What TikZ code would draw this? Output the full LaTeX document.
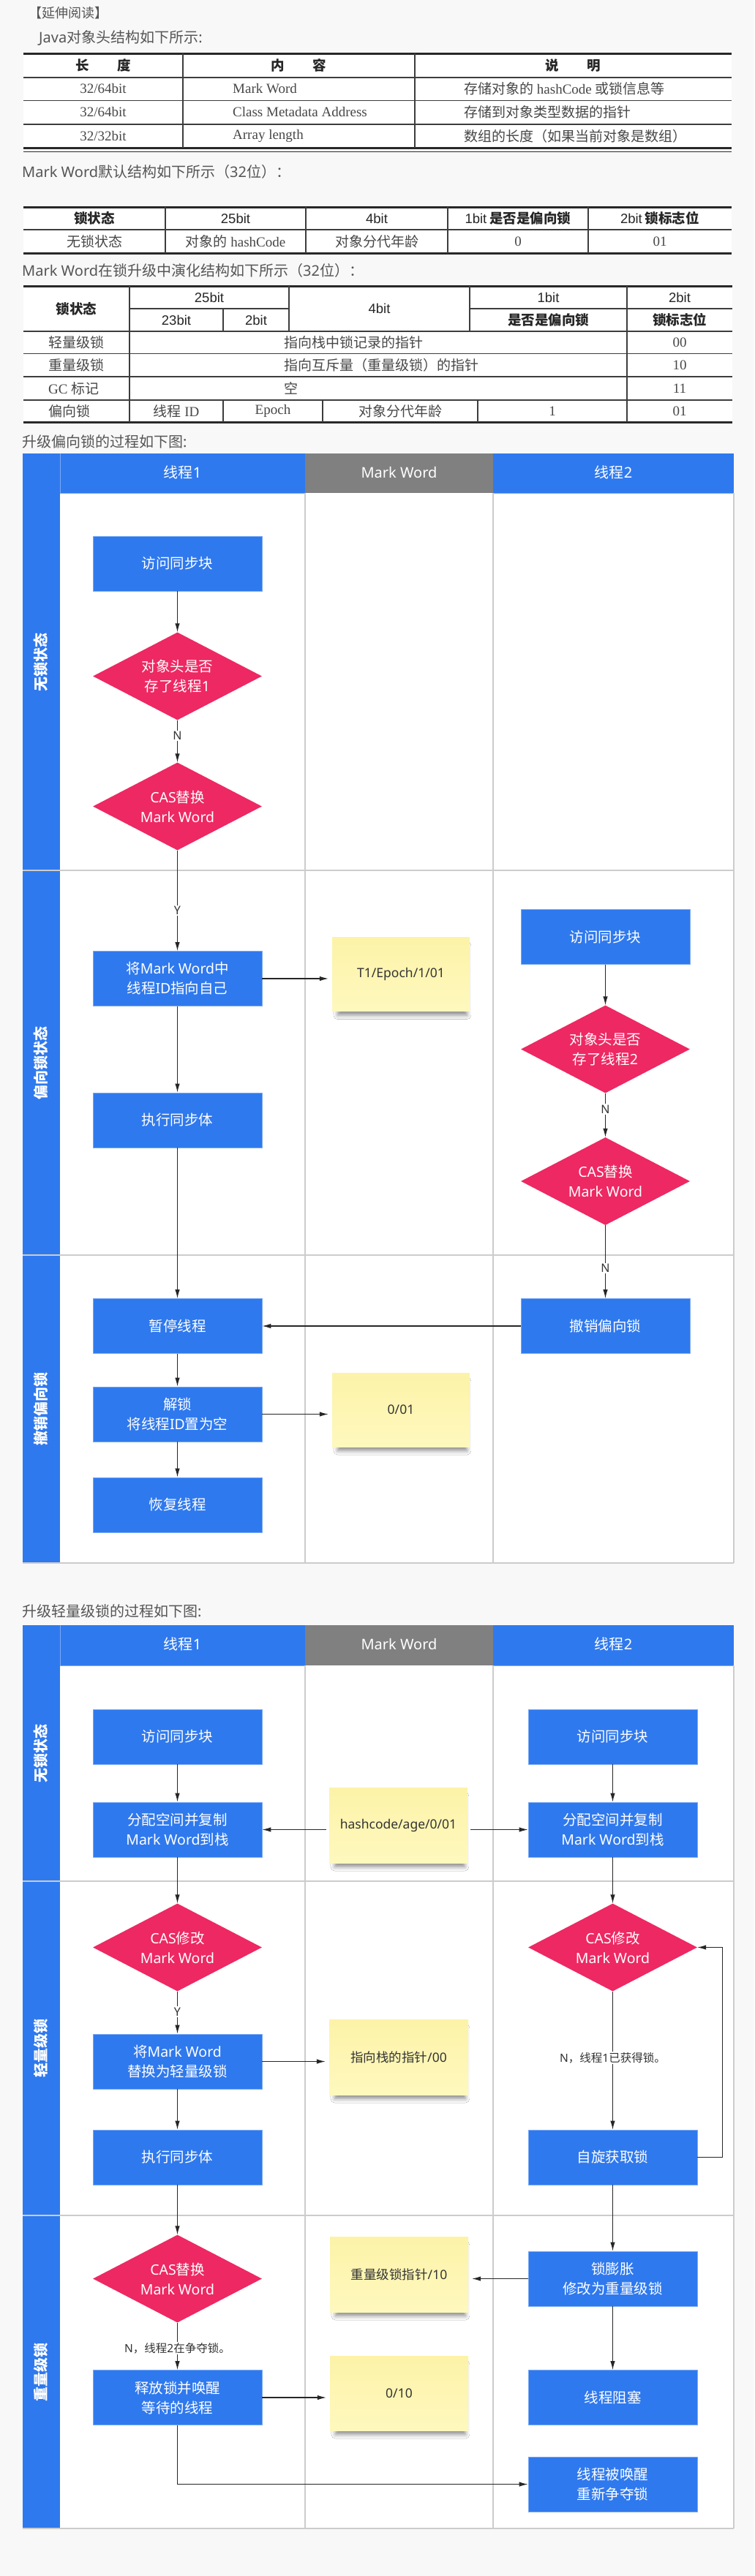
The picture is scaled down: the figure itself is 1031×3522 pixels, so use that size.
\documentclass[tikz,border=0pt]{standalone}
\usepackage{fontspec}
\setmainfont{Liberation Serif}
\newfontfamily\cjk{Noto Sans CJK SC}
\newfontfamily\lat{Noto Sans}
\newfontfamily\ari{Liberation Sans}
\usetikzlibrary{shapes.geometric,arrows.meta,shadows.blur}
\newcommand\lt[1]{{\lat #1}}
\newcommand\ar[1]{{\ari #1}}
\definecolor{bg}{RGB}{248,248,248}
\definecolor{blueC}{RGB}{47,121,238}
\definecolor{blueL}{RGB}{120,168,246}
\definecolor{pinkC}{RGB}{238,40,98}
\definecolor{grayH}{RGB}{128,128,128}
\definecolor{laneL}{RGB}{204,204,204}
\definecolor{stA}{RGB}{252,243,168}
\definecolor{stB}{RGB}{254,248,190}
\definecolor{txt}{RGB}{85,85,85}
\definecolor{tline}{RGB}{40,40,40}
\tikzset{
 box/.style={rectangle, fill=blueC, draw=blueL, line width=0.8pt, minimum width=231pt, minimum height=75pt, inner sep=0pt, text=white, align=center, font=\cjk\fontsize{19.5}{27}\selectfont},
 dia/.style={diamond, aspect=1.925, fill=pinkC, minimum width=231pt, minimum height=120pt, inner sep=0pt, text=white, align=center, font=\cjk\fontsize{19.5}{27}\selectfont},
 sticky/.style={rectangle, top color=stA, bottom color=stB, minimum width=188pt, minimum height=101pt, inner sep=0pt, text=black!80, font=\cjk\fontsize{17.5}{22}\selectfont, blur shadow={shadow xshift=2pt, shadow yshift=-9pt, shadow scale=0.94, shadow blur radius=6pt, shadow opacity=45}},
 arr/.style={draw=black!85, line width=1.1pt, -{Latex[length=12pt,width=6.5pt]}},
 elab/.style={fill=white, inner sep=1.5pt, text=black!80, font=\cjk\fontsize{16}{19}\selectfont},
 hd/.style={text=white, font=\cjk\fontsize{20}{24}\selectfont},
 lanelab/.style={rotate=90, text=white, font=\cjk\bfseries\fontsize{20}{24}\selectfont},
 para/.style={anchor=west, text=txt, font=\cjk\fontsize{20}{24}\selectfont, inner sep=0pt},
 th/.style={text=black!85, font=\cjk\fontsize{18.5}{22}\selectfont, inner sep=0pt},
 td/.style={text=black!72, font=\fontsize{19}{22}\selectfont, inner sep=0pt},
 tk/.style={line width=3pt, draw=tline},
 tm/.style={line width=1.6pt, draw=tline!90},
 tv/.style={line width=1.2pt, draw=tline!90},
 lanesep/.style={draw=laneL, line width=2.5pt},
 colsep/.style={draw=laneL, line width=1.3pt},
}
\begin{document}
\begin{tikzpicture}[x=1pt,y=-1pt]
\useasboundingbox (0,0) rectangle (1031,3522);
\fill[bg] (0,0) rectangle (1031,3522);

% ---------- headings ----------
\node[para, font=\cjk\fontsize{18}{22}\selectfont] (p0) at (39,18) {【延伸阅读】};
\node[para] (p1) at (53,52) {\lt{Java}对象头结构如下所示\lt{:}};
\node[para] (p2) at (30,235) {\lt{Mark Word}默认结构如下所示（\lt{32}位）：};
\node[para] (p3) at (30,370) {\lt{Mark Word}在锁升级中演化结构如下所示（\lt{32}位）：};
\node[para] (p4) at (30,604) {升级偏向锁的过程如下图\lt{:}};
\node[para] (p5) at (30,2203) {升级轻量级锁的过程如下图\lt{:}};

% ---------- table 1 ----------
\fill[white] (32,73) rectangle (1000,208);
\draw[tk] (32,73.5) -- (1000,73.5);
\draw[tm] (32,106) -- (1000,106);
\draw[tm] (32,137.5) -- (1000,137.5);
\draw[tm] (32,170) -- (1000,170);
\draw[tk] (32,202) -- (1000,202);
\draw[line width=1.2pt, draw=tline] (32,207.5) -- (1000,207.5);
\draw[tv] (250,73) -- (250,202);
\draw[tv] (567,73) -- (567,202);
\node[th, font=\cjk\bfseries\fontsize{18.5}{22}\selectfont] (t1h1) at (141,89.5) {长\hspace{38pt}度};
\node[th, font=\cjk\bfseries\fontsize{18.5}{22}\selectfont] (t1h2) at (408,89.5) {内\hspace{38pt}容};
\node[th, font=\cjk\bfseries\fontsize{18.5}{22}\selectfont] (t1h3) at (783,89.5) {说\hspace{38pt}明};
\node[td] (t1a1) at (141,121.5) {32/64bit};
\node[td, anchor=west] (t1b1) at (318,121.5) {Mark Word};
\node[td, anchor=west] (t1c1) at (634,121.5) {{\cjk 存储对象的} hashCode {\cjk 或锁信息等}};
\node[td] (t1a2) at (141,153.5) {32/64bit};
\node[td, anchor=west] (t1b2) at (318,153.5) {Class Metadata Address};
\node[td, anchor=west] (t1c2) at (634,153.5) {{\cjk 存储到对象类型数据的指针}};
\node[td] (t1a3) at (141,186) {32/32bit};
\node[td, anchor=west] (t1b3) at (318,186) {Array length};
\node[td, anchor=west] (t1c3) at (634,186) {{\cjk 数组的长度（如果当前对象是数组）}};

% ---------- table 2 ----------
\fill[white] (32,283) rectangle (1000,348);
\draw[tk] (32,283.5) -- (1000,283.5);
\draw[tm] (32,314) -- (1000,314);
\draw[tk] (32,346.5) -- (1000,346.5);
\foreach \xx in {226,418,612,804} \draw[tv] (\xx,283) -- (\xx,346);
\node[th] (t2h1) at (129,298.5) {\textbf{锁状态}};
\node[th] (t2h2) at (322,298.5) {\ar{25bit}};
\node[th] (t2h3) at (515,298.5) {\ar{4bit}};
\node[th] (t2h4) at (708,298.5) {\ar{1bit} \textbf{是否是偏向锁}};
\node[th] (t2h5) at (902,298.5) {\ar{2bit} \textbf{锁标志位}};
\node[td] (t2r1) at (129,330.5) {{\cjk 无锁状态}};
\node[td] (t2r2) at (322,330.5) {{\cjk 对象的} hashCode};
\node[td] (t2r3) at (515,330.5) {{\cjk 对象分代年龄}};
\node[td] (t2r4) at (708,330.5) {0};
\node[td] (t2r5) at (902,330.5) {01};

% ---------- table 3 ----------
\fill[white] (32,391) rectangle (1001,578);
\draw[tk] (32,391.5) -- (1001,391.5);
\draw[tm] (177,422) -- (395,422);
\draw[tm] (642,422) -- (1001,422);
\foreach \yy in {453,483.5,515,547} \draw[tm] (32,\yy) -- (1001,\yy);
\draw[tk] (32,577) -- (1001,577);
\draw[tv] (177,391) -- (177,577);
\draw[tv] (857,391) -- (857,577);
\draw[tv] (305,422) -- (305,453);
\draw[tv] (305,547) -- (305,577);
\draw[tv] (395,391) -- (395,453);
\draw[tv] (642,391) -- (642,453);
\draw[tv] (441,547) -- (441,577);
\draw[tv] (653,547) -- (653,577);
\node[th] (t3h1) at (104.5,422) {\textbf{锁状态}};
\node[th] (t3h2) at (286,406.5) {\ar{25bit}};
\node[th] (t3h3) at (241,437.5) {\ar{23bit}};
\node[th] (t3h4) at (350,437.5) {\ar{2bit}};
\node[th] (t3h5) at (518.5,422) {\ar{4bit}};
\node[th] (t3h6) at (749.5,406.5) {\ar{1bit}};
\node[th] (t3h7) at (749.5,437.5) {\textbf{是否是偏向锁}};
\node[th] (t3h8) at (929,406.5) {\ar{2bit}};
\node[th] (t3h9) at (929,437.5) {\textbf{锁标志位}};
\node[td, anchor=west] (t3a1) at (66,468) {{\cjk 轻量级锁}};
\node[td, anchor=west] (t3b1) at (388,468) {{\cjk 指向栈中锁记录的指针}};
\node[td] (t3c1) at (929,468) {00};
\node[td, anchor=west] (t3a2) at (66,499) {{\cjk 重量级锁}};
\node[td, anchor=west] (t3b2) at (388,499) {{\cjk 指向互斥量（重量级锁）的指针}};
\node[td] (t3c2) at (929,499) {10};
\node[td, anchor=west] (t3a3) at (66,531) {GC {\cjk 标记}};
\node[td, anchor=west] (t3b3) at (388,531) {{\cjk 空}};
\node[td] (t3c3) at (929,531) {11};
\node[td, anchor=west] (t3a4) at (66,562) {{\cjk 偏向锁}};
\node[td] (t3b4) at (241,562) {{\cjk 线程} ID};
\node[td] (t3c4) at (373,562) {Epoch};
\node[td] (t3d4) at (547,562) {{\cjk 对象分代年龄}};
\node[td] (t3e4) at (755,562) {1};
\node[td] (t3f4) at (929,562) {01};

% ---------- diagram 1 : bias lock ----------
\fill[white] (82,674) rectangle (1003,2137);
\fill[blueC] (31,619.5) rectangle (81.5,2137);
\fill[blueC] (82,619.5) rectangle (417,674);
\fill[grayH] (417,619.5) rectangle (674,674);
\fill[blueC] (674,619.5) rectangle (1003,674);
\draw[blueL, line width=1pt] (82,619.5) -- (82,674) -- (417,674);
\draw[blueL, line width=1pt] (674,674) -- (1003,674);
\draw[colsep] (417,674) -- (417,2137);
\draw[colsep] (674,674) -- (674,2137);
\draw[colsep] (1003,674) -- (1003,2137);
\draw[lanesep] (31,1190) -- (1003,1190);
\draw[lanesep] (31,1716) -- (1003,1716);
\draw[lanesep] (31,2137) -- (1003,2137);
\node[hd] (h11) at (249.5,646) {线程\lt{1}};
\node[hd] (h12) at (545.5,646) {\lt{Mark Word}};
\node[hd] (h13) at (838.5,646) {线程\lt{2}};
\node[lanelab] (l11) at (56,905) {无锁状态};
\node[lanelab] (l12) at (56,1453) {偏向锁状态};
\node[lanelab] (l13) at (56,1926.5) {撤销偏向锁};

\node[box] (a1) at (242.5,770.5) {访问同步块};
\node[dia] (a2) at (242.5,924.5) {对象头是否\\存了线程\lt{1}};
\node[dia] (a3) at (242.5,1102.5) {\lt{CAS}替换\\\lt{Mark Word}};
\node[box] (a4) at (242.5,1338) {将\lt{Mark Word}中\\线程\lt{ID}指向自己};
\node[sticky] (s1) at (548,1332) {\lt{T1/Epoch/1/01}};
\node[box] (a5) at (242.5,1531.5) {执行同步体};
\node[box] (a6) at (242.5,1813) {暂停线程};
\node[box] (a7) at (242.5,1933.5) {解锁\\将线程\lt{ID}置为空};
\node[sticky] (s2) at (548,1927.5) {\lt{0/01}};
\node[box] (a8) at (242.5,2057.5) {恢复线程};
\node[box] (b1) at (827.5,1281) {访问同步块};
\node[dia] (b2) at (827.5,1434.5) {对象头是否\\存了线程\lt{2}};
\node[dia] (b3) at (827.5,1615) {\lt{CAS}替换\\\lt{Mark Word}};
\node[box] (b4) at (827.5,1813) {撤销偏向锁};

\draw[arr] (a1) -- (a2);
\draw[arr] (a2) -- node[elab,pos=0.37]{\lt{N}} (a3);
\draw[arr] (a3) -- node[elab,pos=0.6]{\lt{Y}} (a4);
\draw[arr,shorten >=5pt] (a4.east) -- (a4.east -| s1.west);
\draw[arr] (a4) -- (a5);
\draw[arr] (a5) -- (a6);
\draw[arr] (b4) -- (a6);
\draw[arr] (a6) -- (a7);
\draw[arr,shorten >=5pt] (a7.east) -- (a7.east -| s2.west);
\draw[arr] (a7) -- (a8);
\draw[arr] (b1) -- (b2);
\draw[arr] (b2) -- node[elab,pos=0.36]{\lt{N}} (b3);
\draw[arr] (b3) -- node[elab,pos=0.59]{\lt{N}} (b4);

% ---------- diagram 2 : lightweight lock ----------
\fill[white] (82,2277) rectangle (1003,3457);
\fill[blueC] (31,2222) rectangle (81.5,3457);
\fill[blueC] (82,2222) rectangle (417,2277);
\fill[grayH] (417,2222) rectangle (674,2277);
\fill[blueC] (674,2222) rectangle (1003,2277);
\draw[blueL, line width=1pt] (82,2222) -- (82,2277) -- (417,2277);
\draw[blueL, line width=1pt] (674,2277) -- (1003,2277);
\draw[colsep] (417,2277) -- (417,3457);
\draw[colsep] (674,2277) -- (674,3457);
\draw[colsep] (1003,2277) -- (1003,3457);
\draw[lanesep] (31,2572) -- (1003,2572);
\draw[lanesep] (31,3029) -- (1003,3029);
\draw[lanesep] (31,3457) -- (1003,3457);
\node[hd] (h21) at (249.5,2248) {线程\lt{1}};
\node[hd] (h22) at (545.5,2248) {\lt{Mark Word}};
\node[hd] (h23) at (838.5,2248) {线程\lt{2}};
\node[lanelab] (l21) at (56,2397) {无锁状态};
\node[lanelab] (l22) at (56,2800.5) {轻量级锁};
\node[lanelab] (l23) at (56,3243) {重量级锁};

\node[box] (c1) at (242.5,2374.5) {访问同步块};
\node[box] (c2) at (242.5,2501.5) {分配空间并复制\\\lt{Mark Word}到栈};
\node[sticky, minimum width=189pt, minimum height=103pt] (s3) at (544.5,2495.5) {\lt{hashcode/age/0/01}};
\node[box] (d1) at (837.5,2374.5) {访问同步块};
\node[box] (d2) at (837.5,2501.5) {分配空间并复制\\\lt{Mark Word}到栈};
\node[dia] (c3) at (242.5,2662.5) {\lt{CAS}修改\\\lt{Mark Word}};
\node[dia] (d3) at (837.5,2662.5) {\lt{CAS}修改\\\lt{Mark Word}};
\node[box] (c4) at (242.5,2818.5) {将\lt{Mark Word}\\替换为轻量级锁};
\node[sticky, minimum width=190pt, minimum height=103pt] (s4) at (545,2812.5) {指向栈的指针\lt{/00}};
\node[box] (c5) at (242.5,2949.5) {执行同步体};
\node[box] (d4) at (837.5,2949.5) {自旋获取锁};
\node[dia] (c6) at (242.5,3115.5) {\lt{CAS}替换\\\lt{Mark Word}};
\node[sticky, minimum width=189pt, minimum height=103pt] (s5) at (545.5,3109.5) {重量级锁指针\lt{/10}};
\node[box] (d5) at (837.5,3115.5) {锁膨胀\\修改为重量级锁};
\node[box] (c7) at (242.5,3278) {释放锁并唤醒\\等待的线程};
\node[sticky, minimum width=189pt, minimum height=102pt] (s6) at (545.5,3272) {\lt{0/10}};
\node[box] (d6) at (837.5,3278) {线程阻塞};
\node[box] (d7) at (837.5,3396.5) {线程被唤醒\\重新争夺锁};

\draw[arr] (c1) -- (c2);
\draw[arr] (d1) -- (d2);
\draw[arr,shorten <=4pt] (s3.west |- c2.east) -- (c2.east);
\draw[arr,shorten <=4pt] (s3.east |- d2.west) -- (d2.west);
\draw[arr] (c2) -- (c3);
\draw[arr] (d2) -- (d3);
\draw[arr] (c3) -- node[elab,pos=0.48]{\lt{Y}} (c4);
\draw[arr,shorten >=5pt] (c4.east) -- (c4.east -| s4.west);
\draw[arr] (c4) -- (c5);
\draw[arr] (d3) -- node[elab,pos=0.48,font=\cjk\fontsize{15.5}{19}\selectfont]{\lt{N}，线程\lt{1}已获得锁。} (d4);
\draw[arr] (d4.east) -- ++(34,0) |- (d3.east);
\draw[arr] (c5) -- (c6);
\draw[arr] (d4) -- (d5);
\draw[arr,shorten >=5pt] (d5.west) -- (d5.west -| s5.east);
\draw[arr] (d5) -- (d6);
\draw[arr] (c6) -- node[elab,pos=0.54,font=\cjk\fontsize{15.5}{19}\selectfont]{\lt{N}，线程\lt{2}在争夺锁。} (c7);
\draw[arr,shorten >=5pt] (c7.east) -- (c7.east -| s6.west);
\draw[arr] (c7.south) |- (d7.west);
\end{tikzpicture}
\end{document}
